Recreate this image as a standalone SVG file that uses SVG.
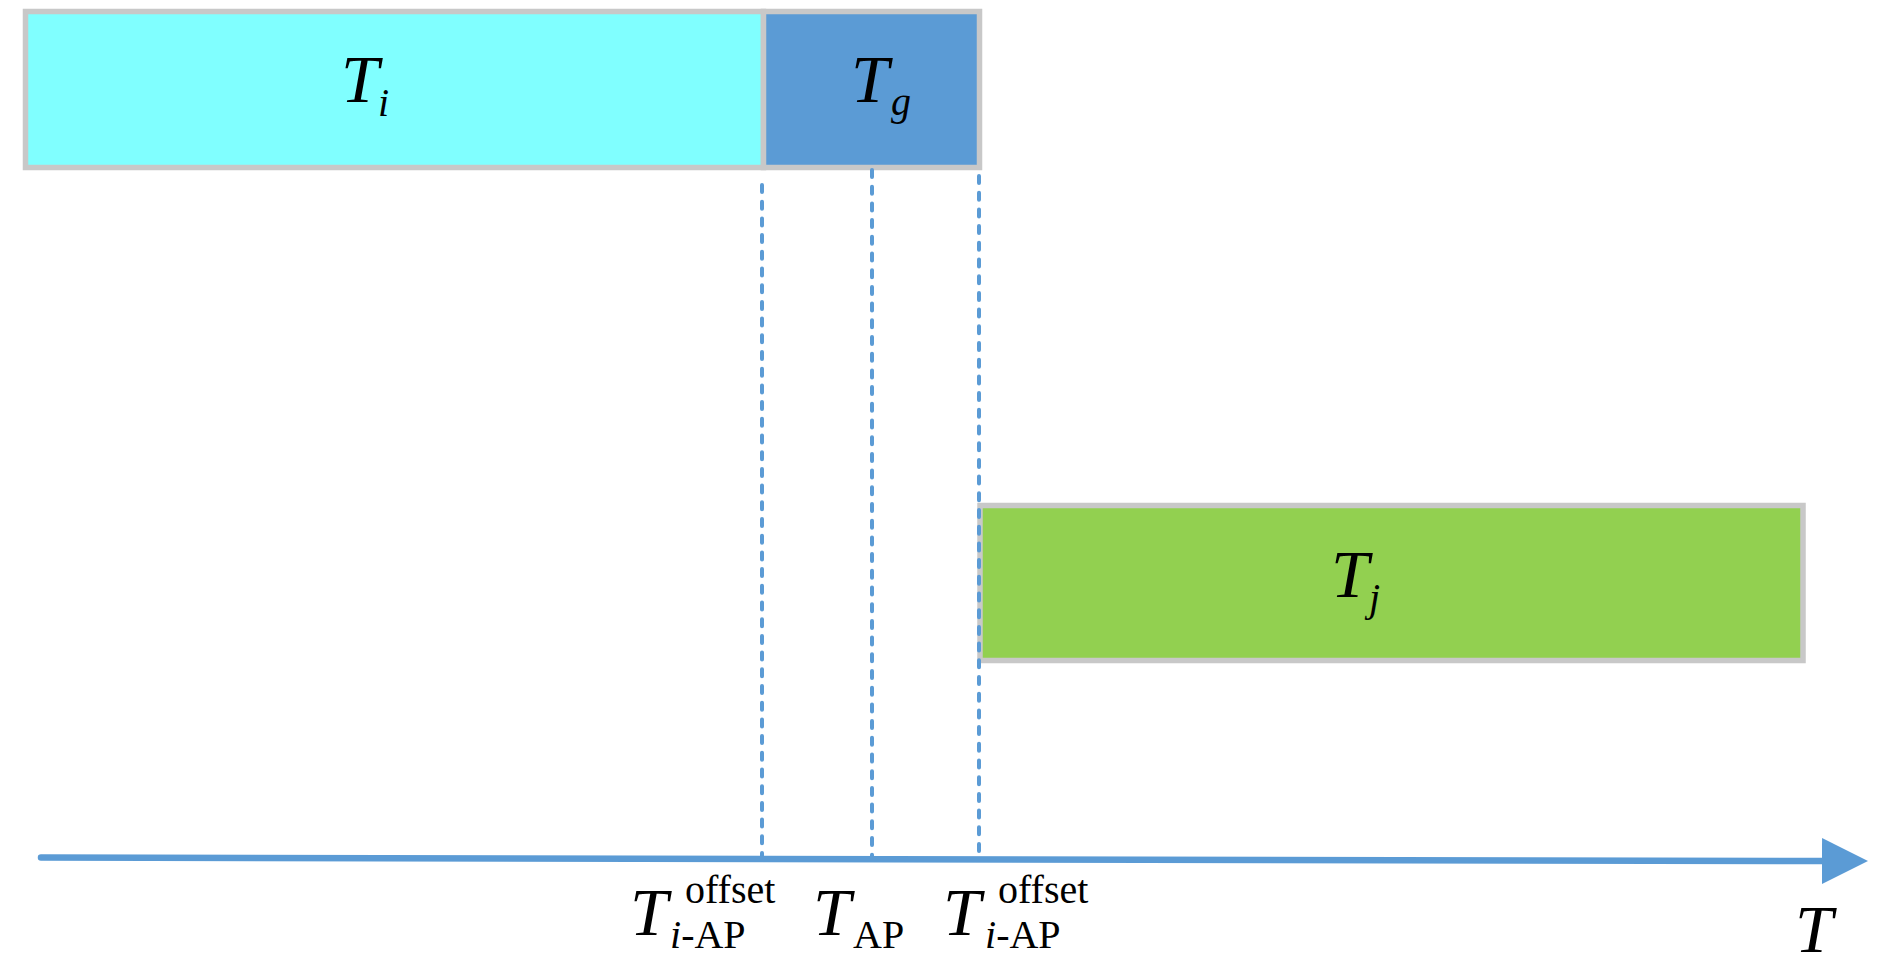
<svg xmlns="http://www.w3.org/2000/svg" width="1890" height="968" viewBox="0 0 1890 968">
  <style>
    .box { stroke: #C8C8C8; stroke-width: 5.5; }
    .dash { stroke: #5B9BD5; stroke-width: 4; stroke-dasharray: 7 9.7; stroke-linecap: round; fill: none; }
    .axis { stroke: #5B9BD5; stroke-width: 6.5; stroke-linecap: round; fill: none; }
    .m { font-family: "Liberation Serif", "DejaVu Serif", serif; font-style: italic; font-size: 68px; fill: #000; }
    .s { font-family: "Liberation Serif", "DejaVu Serif", serif; font-size: 40px; fill: #000; }
    .it { font-style: italic; }
  </style>
  <defs>
    <marker id="arrow" markerUnits="userSpaceOnUse" markerWidth="46" markerHeight="46" viewBox="0 0 45 45" refX="0" refY="22.5" orient="auto">
      <path d="M0,0 L45,22.5 L0,45 Z" fill="#5B9BD5"/>
    </marker>
  </defs>
  <rect width="1890" height="968" fill="#FFFFFF"/>

  <g id="node-Ti">
    <rect class="box" x="25.5" y="11.5" width="738" height="156" fill="#80FFFF"/>
    <text x="341" y="102"><tspan class="m">T</tspan><tspan class="s it" x="378" y="116">i</tspan></text>
  </g>
  <g id="node-Tg">
    <rect class="box" x="763.5" y="11.5" width="216" height="156" fill="#5B9BD5"/>
    <text x="851" y="102"><tspan class="m">T</tspan><tspan class="s it" x="891" y="115">g</tspan></text>
  </g>
  <g id="node-Tj">
    <rect class="box" x="980" y="505.5" width="823" height="155" fill="#92D050"/>
    <text x="1331" y="597"><tspan class="m">T</tspan><tspan class="s it" x="1369" y="611">j</tspan></text>
  </g>

  <g id="connectors">
    <line class="dash" x1="762" y1="185" x2="762" y2="856"/>
    <line class="dash" x1="872" y1="170" x2="872" y2="856"/>
    <line class="dash" x1="979" y1="176" x2="979" y2="856"/>
    <line class="axis" x1="41" y1="857.5" x2="1822" y2="861" marker-end="url(#arrow)"/>
  </g>

  <g id="labels">
    <text id="label-offset-1"><tspan class="m" x="630" y="935">T</tspan><tspan class="s" x="685" y="903">offset</tspan><tspan class="s" x="670" y="948"><tspan class="it">i</tspan>-AP</tspan></text>
    <text id="label-AP"><tspan class="m" x="813" y="935">T</tspan><tspan class="s" x="853" y="948">AP</tspan></text>
    <text id="label-offset-2"><tspan class="m" x="943" y="935">T</tspan><tspan class="s" x="998" y="903">offset</tspan><tspan class="s" x="985" y="948"><tspan class="it">i</tspan>-AP</tspan></text>
    <text id="label-T" class="m" x="1795" y="952">T</text>
  </g>
</svg>
